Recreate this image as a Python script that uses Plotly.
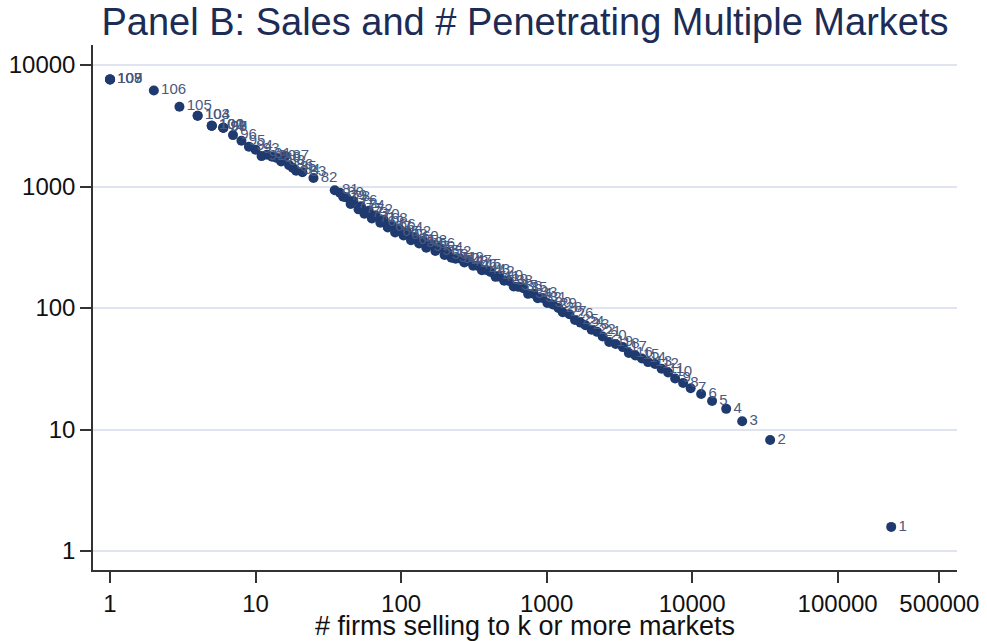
import plotly.graph_objects as go

# k = minimum number of markets penetrated
markets_k = list(range(1, 110))

# number of firms selling to k or more markets
n_firms = [
    233300, 34360, 22080, 17140, 13710, 11530, 9770, 8670, 7640, 6839,
    6166, 5559, 4980, 4519, 4074, 3673, 3340, 2985, 2692, 2427,
    2223, 2037, 1850, 1710, 1567, 1435, 1290, 1205, 1104, 1012,
    938, 869, 812, 746, 692, 641, 594, 551, 511, 473,
    446, 412, 385, 359, 335, 313, 288, 272, 254, 237,
    222, 208, 199, 183, 172, 161, 149, 142, 133, 124,
    117, 110, 104, 97, 91, 86, 81, 76, 72, 67,
    63, 60, 56, 53, 51, 47, 45, 42, 40, 38,
    35, 25, 21, 19, 18, 17, 16, 15, 14, 13,
    12, 11, 10, 9, 8, 7, 6, 6, 6, 5,
    5, 5, 4, 4, 3, 2, 1, 1, 1,
]

# average sales of those firms
avg_sales = [
    1.58, 8.2, 11.7, 14.8, 17.2, 19.6, 21.9, 24.2, 26.3, 29.5,
    31.6, 34.7, 35.9, 38.4, 40.7, 42.7, 47.7, 50.6, 52.6, 58.3,
    63.7, 66.2, 72.2, 75.9, 79.7, 88.8, 92.4, 100.0, 106.8, 110.0,
    121.0, 120.5, 131.4, 130.9, 145.5, 149.4, 150.3, 167.1, 168.1, 181.4,
    180.6, 198.0, 205.5, 204.7, 223.2, 223.4, 243.8, 237.5, 256.2, 254.4,
    259.2, 289.2, 273.3, 312.8, 294.5, 335.2, 313.9, 355.7, 340.6, 384.9,
    361.0, 418.0, 395.2, 452.2, 419.0, 482.3, 459.5, 533.4, 503.8, 577.0,
    546.3, 632.7, 598.1, 687.1, 649.1, 760.6, 717.8, 815.0, 825.6, 888.4,
    933.0, 1175, 1310, 1350, 1430, 1500, 1780, 1610, 1720, 1760,
    1830, 1780, 2010, 2130, 2380, 2650, 3050, 3050, 3050, 3170,
    3170, 3170, 3830, 3830, 4540, 6180, 7620, 7620, 7620,
]

x_ticks = [1, 10, 100, 1000, 10000, 100000, 500000]
y_ticks = [1, 10, 100, 1000, 10000]

FONT = "Liberation Sans, Arial, Helvetica, sans-serif"
NAVY = "#1e3a6e"
AXIS = "#333333"

fig = go.Figure(
    go.Scatter(
        x=n_firms,
        y=avg_sales,
        mode="markers+text",
        text=[str(k) for k in markets_k],
        textposition="middle right",
        textfont=dict(family=FONT, size=15, color="#4a5980"),
        marker=dict(size=10, color=NAVY, line=dict(width=0)),
        hoverinfo="x+y+text",
    )
)

fig.update_layout(
    width=987,
    height=641,
    margin=dict(l=93, r=30, t=45, b=71),
    paper_bgcolor="white",
    plot_bgcolor="white",
    showlegend=False,
    font=dict(family=FONT, color="#111111"),
    title=dict(
        text="Panel B: Sales and # Penetrating Multiple Markets",
        x=0.5,
        xref="paper",
        xanchor="center",
        y=0.966,
        yref="container",
        yanchor="middle",
        font=dict(family=FONT, size=38, color="#1c2c55"),
    ),
)

fig.update_xaxes(
    type="log",
    range=[-0.117, 5.82],
    tickvals=x_ticks,
    ticktext=[str(v) for v in x_ticks],
    ticks="outside",
    ticklen=11,
    tickwidth=1.5,
    tickcolor=AXIS,
    tickfont=dict(family=FONT, size=24, color="#111111"),
    showgrid=False,
    zeroline=False,
    showline=True,
    linecolor=AXIS,
    linewidth=1.5,
    automargin=False,
    title=dict(
        text="# firms selling to k or more markets",
        font=dict(family=FONT, size=27, color="#111111"),
        standoff=0,
    ),
)

fig.update_yaxes(
    type="log",
    range=[-0.156, 4.165],
    tickvals=y_ticks,
    ticktext=[str(v) for v in y_ticks],
    ticks="outside",
    ticklen=11,
    tickwidth=1.5,
    tickcolor=AXIS,
    tickfont=dict(family=FONT, size=24, color="#111111"),
    showgrid=True,
    gridcolor="#e0e4f0",
    gridwidth=1.5,
    zeroline=False,
    showline=True,
    linecolor=AXIS,
    linewidth=1.5,
    automargin=False,
)

fig.write_html("out.html")
